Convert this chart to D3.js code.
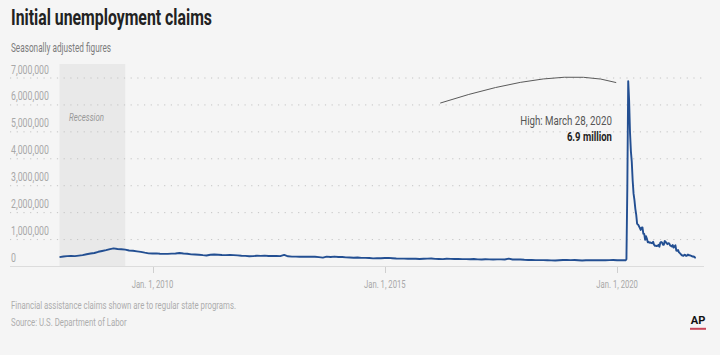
<!DOCTYPE html>
<html><head><meta charset="utf-8">
<script src="https://cdn.jsdelivr.net/npm/d3@7"></script>
<style>
html,body{margin:0;padding:0;background:#f5f5f5;}
svg{display:block;font-family:Roboto,"Noto Sans",sans-serif;}
</style></head><body>
<svg id="chart" width="720" height="355"></svg>
<script>
// ---- data (claims in thousands, seasonally adjusted) ----
const monthDates = [
"2008-01","2008-02","2008-03","2008-04","2008-05","2008-06","2008-07","2008-08","2008-09","2008-10","2008-11","2008-12",
"2009-01","2009-02","2009-03","2009-04","2009-05","2009-06","2009-07","2009-08","2009-09","2009-10","2009-11","2009-12",
"2010-01","2010-02","2010-03","2010-04","2010-05","2010-06","2010-07","2010-08","2010-09","2010-10","2010-11","2010-12",
"2011-01","2011-02","2011-03","2011-04","2011-05","2011-06","2011-07","2011-08","2011-09","2011-10","2011-11","2011-12",
"2012-01","2012-02","2012-03","2012-04","2012-05","2012-06","2012-07","2012-08","2012-09","2012-10","2012-11","2012-12",
"2013-01","2013-02","2013-03","2013-04","2013-05","2013-06","2013-07","2013-08","2013-09","2013-10","2013-11","2013-12",
"2014-01","2014-02","2014-03","2014-04","2014-05","2014-06","2014-07","2014-08","2014-09","2014-10","2014-11","2014-12",
"2015-01","2015-02","2015-03","2015-04","2015-05","2015-06","2015-07","2015-08","2015-09","2015-10","2015-11","2015-12",
"2016-01","2016-02","2016-03","2016-04","2016-05","2016-06","2016-07","2016-08","2016-09","2016-10","2016-11","2016-12",
"2017-01","2017-02","2017-03","2017-04","2017-05","2017-06","2017-07","2017-08","2017-09","2017-10","2017-11","2017-12",
"2018-01","2018-02","2018-03","2018-04","2018-05","2018-06","2018-07","2018-08","2018-09","2018-10","2018-11","2018-12",
"2019-01","2019-02","2019-03","2019-04","2019-05","2019-06","2019-07","2019-08","2019-09","2019-10","2019-11","2019-12",
"2020-01","2020-02"];
const monthClaims = [
330,352,365,372,368,385,402,438,462,482,528,558,
588,628,655,632,622,608,575,565,545,525,495,470,
462,470,455,452,452,460,462,482,462,455,432,425,
420,402,392,418,428,420,410,405,415,405,395,380,
375,362,365,380,375,385,370,370,375,365,410,360,
350,350,345,345,350,345,345,330,312,348,335,350,
335,335,320,315,305,315,300,300,295,282,290,290,
295,300,290,280,275,275,270,275,270,262,270,275,
280,265,262,255,268,265,260,262,255,255,250,260,
245,240,250,245,240,245,245,240,272,240,245,240,
230,225,225,220,220,220,215,210,205,212,222,222,
220,225,215,205,215,220,212,212,212,215,220,225,
212,212];
const weekDates = [
"2020-03-07","2020-03-14","2020-03-21","2020-03-28","2020-04-04","2020-04-11","2020-04-18","2020-04-25",
"2020-05-02","2020-05-09","2020-05-16","2020-05-23","2020-05-30","2020-06-06","2020-06-13","2020-06-20",
"2020-06-27","2020-07-04","2020-07-11","2020-07-18","2020-07-25","2020-08-01","2020-08-08","2020-08-15",
"2020-08-22","2020-08-29","2020-09-05","2020-09-12","2020-09-19","2020-09-26","2020-10-03","2020-10-10",
"2020-10-17","2020-10-24","2020-10-31","2020-11-07","2020-11-14","2020-11-21","2020-11-28","2020-12-05",
"2020-12-12","2020-12-19","2020-12-26","2021-01-02","2021-01-09","2021-01-16","2021-01-23","2021-01-30",
"2021-02-06","2021-02-13","2021-02-20","2021-02-27","2021-03-06","2021-03-13","2021-03-20","2021-03-27",
"2021-04-03","2021-04-10","2021-04-17","2021-04-24","2021-05-01","2021-05-08","2021-05-15","2021-05-22",
"2021-05-29","2021-06-05","2021-06-12","2021-06-19","2021-06-26","2021-07-03","2021-07-10","2021-07-17",
"2021-07-24","2021-07-31","2021-08-07","2021-08-14","2021-08-21","2021-08-28","2021-09-04","2021-09-11"];
const weekClaims = [
211,251,2920,6867,6149,4971,4267,3867,
3176,2687,2446,2123,1897,1566,1540,1482,
1413,1338,1422,1435,1191,1186,971,1104,
1011,881,893,866,873,849,845,898,
791,751,757,742,748,787,716,862,
892,869,790,790,926,900,847,812,
848,841,765,745,725,781,684,728,
769,576,566,590,507,478,444,405,
385,376,418,415,373,385,424,400,
399,387,375,353,354,345,312,310];
const yTicks = [0,1000000,2000000,3000000,4000000,5000000,6000000,7000000];
const xTickDates = ["2010-01-01","2015-01-01","2020-01-01"];
const xTickLabels = ["Jan. 1, 2010","Jan. 1, 2015","Jan. 1, 2020"];
const recessionSpan = ["2007-12-01","2009-06-01"];
const peakDate = "2020-03-28";
const peakValue = 6867000;

// ---- helpers ----
const pMonth = d3.timeParse("%Y-%m");
const pDay = d3.timeParse("%Y-%m-%d");
const fmt = d3.format(",");
function fit(sel, w){ sel.attr("textLength", w).attr("lengthAdjust","spacingAndGlyphs"); return sel; }

const series = monthDates.map((d,i)=>({date:pMonth(d), v:monthClaims[i]*1000}))
  .concat(weekDates.map((d,i)=>({date:pDay(d), v:weekClaims[i]*1000})));

const svg = d3.select("#chart");
svg.append("rect").attr("width",720).attr("height",355).attr("fill","#f5f5f5");

const x = d3.scaleTime()
  .domain([pMonth("2008-01"), pDay("2021-09-11")])
  .range([59.5, 695.9]);
const y = d3.scaleLinear().domain([0,7000000]).range([266,77.5]);
const gridX0 = 10, gridX1 = 704;

// recession band
const r0 = d3.max([pDay(recessionSpan[0]), x.domain()[0]]);
svg.append("rect")
  .attr("x", x(r0)).attr("y", 64)
  .attr("width", x(pDay(recessionSpan[1])) - x(r0))
  .attr("height", y(0) - 64)
  .attr("fill", "#e9e9e9");
fit(svg.append("text").attr("x", x(r0)+9.5).attr("y", 120.5)
  .attr("font-size", 11.8).attr("font-style","italic").attr("fill","#999")
  .text("Recession"), 35);

// gridlines + y labels
const yg = svg.append("g");
yg.selectAll("line").data(yTicks.filter(d=>d>0)).join("line")
  .attr("x1", gridX0).attr("x2", gridX1)
  .attr("y1", d=>y(d)+0.5).attr("y2", d=>y(d)+0.5)
  .attr("stroke","#c4c4c4").attr("stroke-width",1)
  .attr("stroke-dasharray","1.2,5.5");
const yl = yg.selectAll("text").data(yTicks).join("text")
  .attr("x", 11).attr("y", d=>y(d)-4)
  .attr("font-size", 12.7).attr("fill","#a8a8a8")
  .text(d=>fmt(d));
const kY = 38 / yl.filter(d=>d===7000000).node().getComputedTextLength();
yl.each(function(){ const n=this.getComputedTextLength(); d3.select(this).attr("textLength", n*kY).attr("lengthAdjust","spacingAndGlyphs"); });

// x axis baseline and ticks
svg.append("line").attr("x1",gridX0).attr("x2",gridX1)
  .attr("y1", y(0)+0.5).attr("y2", y(0)+0.5)
  .attr("stroke","#dcdcdc").attr("stroke-width",1);
const xa = svg.append("g");
xa.selectAll("line").data(xTickDates).join("line")
  .attr("x1", d=>Math.round(x(pDay(d)))+0.5).attr("x2", d=>Math.round(x(pDay(d)))+0.5)
  .attr("y1", y(0)+1).attr("y2", y(0)+7)
  .attr("stroke","#cfcfcf");
const xl = xa.selectAll("text").data(xTickDates).join("text")
  .attr("x", d=>x(pDay(d))).attr("y", 288)
  .attr("text-anchor","middle").attr("font-size",10).attr("fill","#a8a8a8")
  .text((d,i)=>xTickLabels[i]);
const kX = 41.6 / xl.node().getComputedTextLength();
xl.each(function(){ const n=this.getComputedTextLength(); d3.select(this).attr("textLength", n*kX).attr("lengthAdjust","spacingAndGlyphs"); });

// line
svg.append("path").datum(series)
  .attr("fill","none").attr("stroke","#234f92").attr("stroke-width",1.9)
  .attr("stroke-linejoin","round")
  .attr("d", d3.line().x(d=>x(d.date)).y(d=>y(d.v)));

// annotation
const px = x(pDay(peakDate)), py = y(peakValue);
const ap = d3.path();
ap.moveTo(px-188, py+22);
ap.quadraticCurveTo(px-70, py-16, px-12, py+1.5);
svg.append("path").attr("d", ap.toString())
  .attr("fill","none").attr("stroke","#5a5a5a").attr("stroke-width",1);
fit(svg.append("text").attr("x", px-16.3).attr("y", py+44)
  .attr("text-anchor","end").attr("font-size",12.7).attr("fill","#555")
  .text("High: March 28, 2020"), 91.7);
fit(svg.append("text").attr("x", px-16.3).attr("y", py+59.5)
  .attr("text-anchor","end").attr("font-size",12).attr("font-weight","bold").attr("fill","#222")
  .text((peakValue/1e6).toFixed(1) + " million"), 45);

// title, subtitle, footer
fit(svg.append("text").attr("x",11).attr("y",25)
  .attr("font-size",22).attr("font-weight","bold").attr("fill","#222")
  .text("Initial unemployment claims"), 201);
fit(svg.append("text").attr("x",11).attr("y",52.3)
  .attr("font-size",12.7).attr("fill","#7c7c7c")
  .text("Seasonally adjusted figures"), 100);
fit(svg.append("text").attr("x",11).attr("y",309.3)
  .attr("font-size",10).attr("fill","#adadad")
  .text("Financial assistance claims shown are to regular state programs."), 225);
fit(svg.append("text").attr("x",11).attr("y",326)
  .attr("font-size",10).attr("fill","#adadad")
  .text("Source: U.S. Department of Labor"), 115.7);
// AP logo
fit(svg.append("text").attr("x",690.7).attr("y",324.3)
  .attr("font-size",11.5).attr("font-weight","bold").attr("fill","#111")
  .text("AP"), 14.6);
svg.append("rect").attr("x",690).attr("y",327.8).attr("width",16).attr("height",2)
  .attr("fill","#c9475a");
</script>
</body></html>
